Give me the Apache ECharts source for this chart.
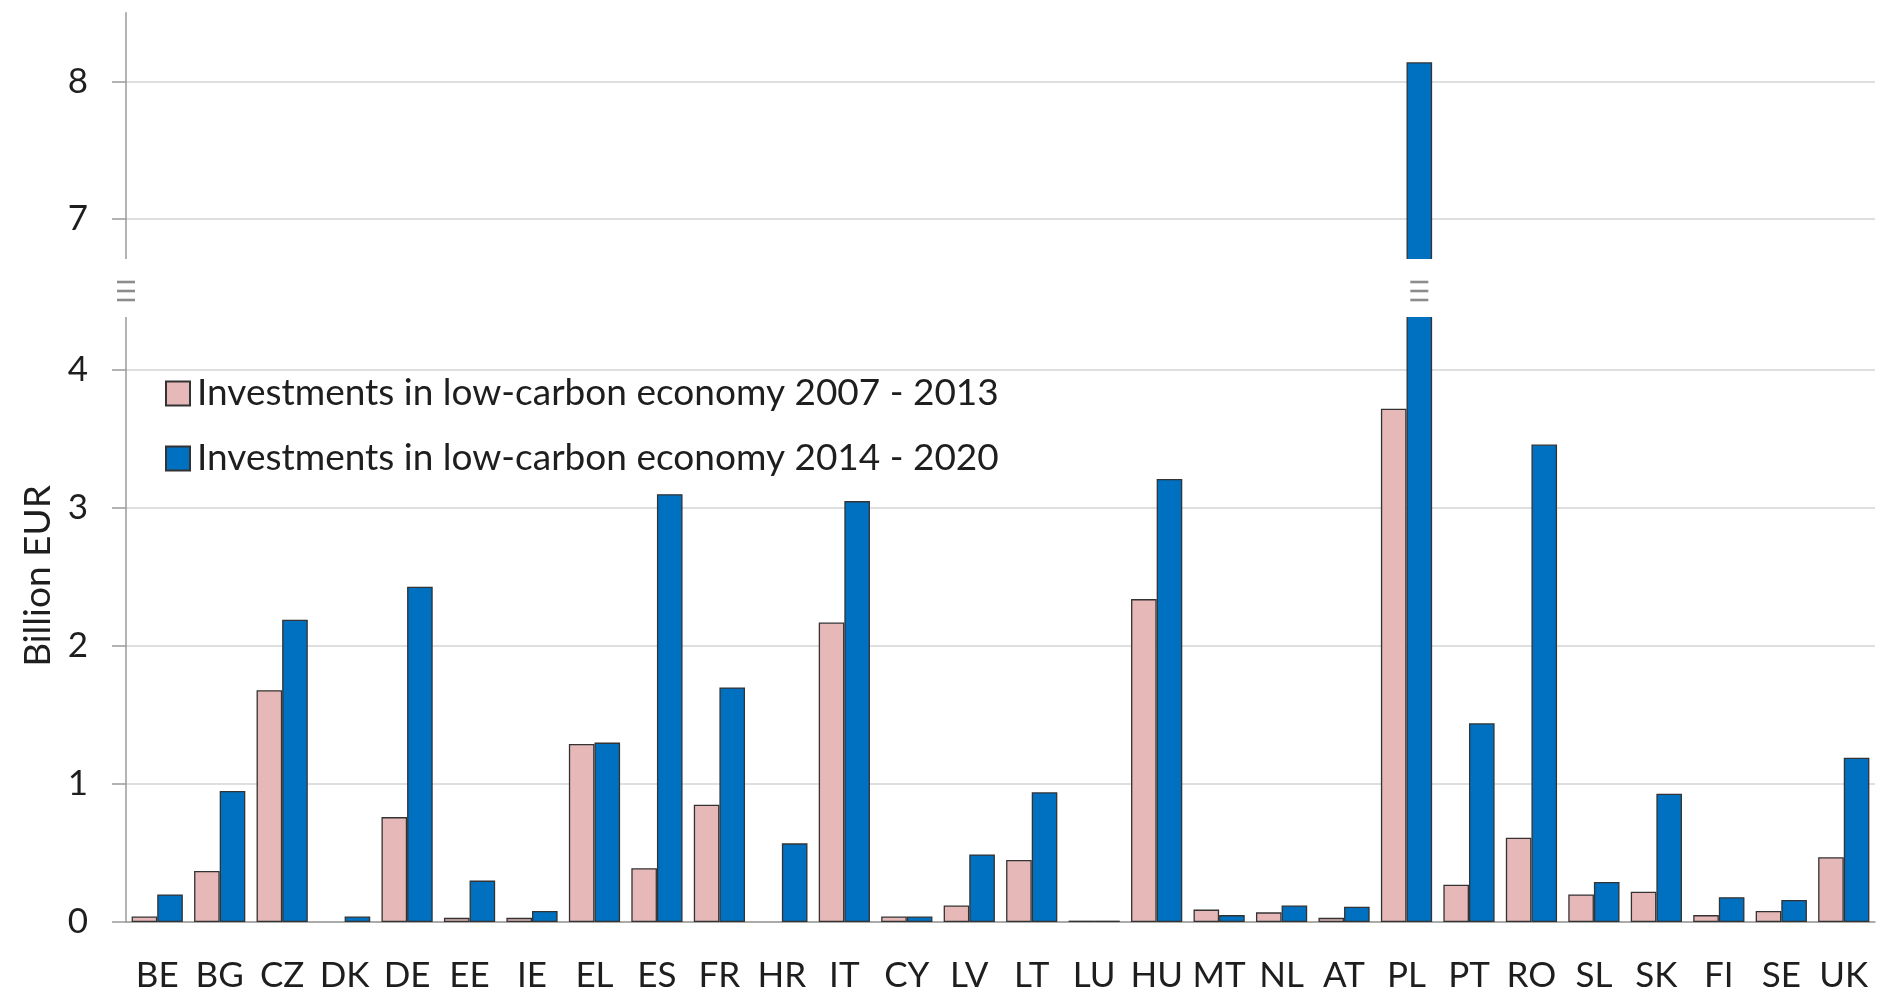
<!DOCTYPE html>
<html><head><meta charset="utf-8">
<script src="https://cdn.jsdelivr.net/npm/echarts@6/dist/echarts.min.js"></script>
<style>html,body{margin:0;padding:0;background:#fff}#c{width:1878px;height:994px}</style>
</head><body><div id="c"></div>
<script>
const countries = ['BE','BG','CZ','DK','DE','EE','IE','EL','ES','FR','HR','IT','CY','LV','LT','LU','HU','MT','NL','AT','PL','PT','RO','SL','SK','FI','SE','UK'];
const invest2007 = [0.04,0.37,1.68,null,0.76,0.03,0.03,1.29,0.39,0.85,null,2.17,0.04,0.12,0.45,0.01,2.34,0.09,0.07,0.03,3.72,0.27,0.61,0.20,0.22,0.05,0.08,0.47];
const invest2014 = [0.20,0.95,2.19,0.04,2.43,0.30,0.08,1.30,3.10,1.70,0.57,3.05,0.04,0.49,0.94,0.01,3.21,0.05,0.12,0.11,8.14,1.44,3.46,0.29,0.93,0.18,0.16,1.19];
const seriesNames = ['Investments in low-carbon economy 2007 - 2013','Investments in low-carbon economy 2014 - 2020'];
const lowerTicks = [0,1,2,3,4];
const upperTicks = [7,8];
const yTitle = 'Billion EUR';
const breakCategory = 'PL';

const FONT = 'Lato, "Open Sans", sans-serif';
const TXT = '#1e1e1e';
const PINK = '#E6B8B7', BLUE = '#0070C0', BORDER = '#333333';
const AXIS = '#9a9a9a', GRIDC = '#d4d4d4';

const chart = echarts.init(document.getElementById('c'), null, {renderer: 'canvas'});

function bar(name, data, grid, color) {
  return {
    name: name, type: 'bar', data: data,
    xAxisIndex: grid, yAxisIndex: grid,
    barGap: '0%', barCategoryGap: '18%',
    itemStyle: {color: color, borderColor: BORDER, borderWidth: 1.3},
    emphasis: {disabled: true}
  };
}
function yAxisCfg(grid, min, max, ticks) {
  return {
    gridIndex: grid, type: 'value', min: min, max: max,
    axisLine: {show: true, lineStyle: {color: AXIS, width: 1.5}},
    axisTick: {show: true, inside: false, length: 14, customValues: ticks, lineStyle: {color: AXIS, width: 1.5}},
    axisLabel: {customValues: ticks, color: TXT, fontSize: 35, fontFamily: FONT, margin: 38},
    splitLine: {show: true, lineStyle: {color: GRIDC, width: 1.5}}
  };
}

const option = {
  animation: false,
  backgroundColor: '#fff',
  textStyle: {fontFamily: FONT},
  grid: [
    {left: 126, right: 3, top: 12.75, height: 261.25},
    {left: 126, right: 3, top: 301, height: 621}
  ],
  xAxis: [
    {gridIndex: 0, type: 'category', data: countries, show: false},
    {gridIndex: 1, type: 'category', data: countries,
     axisLine: {show: true, lineStyle: {color: AXIS, width: 1.5}},
     axisTick: {show: false},
     axisLabel: {color: TXT, fontSize: 35, fontFamily: FONT, margin: 36, interval: 0}}
  ],
  yAxis: [
    yAxisCfg(0, 6.6, 8.5, upperTicks),
    yAxisCfg(1, 0, 4.5, lowerTicks)
  ],
  legend: {
    orient: 'vertical', left: 160, top: 368,
    itemWidth: 24, itemHeight: 24, itemGap: 24,
    icon: 'rect',
    data: seriesNames,
    textStyle: {fontSize: 37, color: TXT, fontFamily: FONT, lineHeight: 41, padding: [0,0,0,2]}
  },
  series: [
    bar(seriesNames[0], invest2007, 0, PINK),
    bar(seriesNames[1], invest2014, 0, BLUE),
    bar(seriesNames[0], invest2007, 1, PINK),
    bar(seriesNames[1], invest2014, 1, BLUE)
  ]
};
chart.setOption(option);

// axis break decoration
const breakTop = 259, breakBottom = 317;
function breakMark(cx) {
  const cy = (breakTop + breakBottom) / 2 + 3;
  return [-9, 0, 9].map(function (d) {
    return {type: 'rect', shape: {x: cx - 9, y: cy + d - 1.3, width: 18, height: 2.6},
            style: {fill: '#8c8c8c'}, z: 101};
  });
}
let barX = chart.convertToPixel({xAxisIndex: 1}, breakCategory);
try {
  const lay = chart.getModel().getSeriesByIndex(3).getData().getItemLayout(countries.indexOf(breakCategory));
  if (lay) barX = lay.x + lay.width / 2;
} catch (e) {}
const gridLeft = 126;
chart.setOption({
  graphic: [
    {type: 'rect', shape: {x: gridLeft - 20, y: breakTop, width: 1878, height: breakBottom - breakTop},
     style: {fill: '#ffffff'}, z: 100}
  ].concat(breakMark(gridLeft)).concat(breakMark(barX)).concat([
    {type: 'text', x: 38, y: 576, rotation: Math.PI / 2,
     style: {text: yTitle, fontSize: 37, fontFamily: FONT, fill: TXT, align: 'center', verticalAlign: 'middle'}, z: 101}
  ])
});
</script></body></html>
